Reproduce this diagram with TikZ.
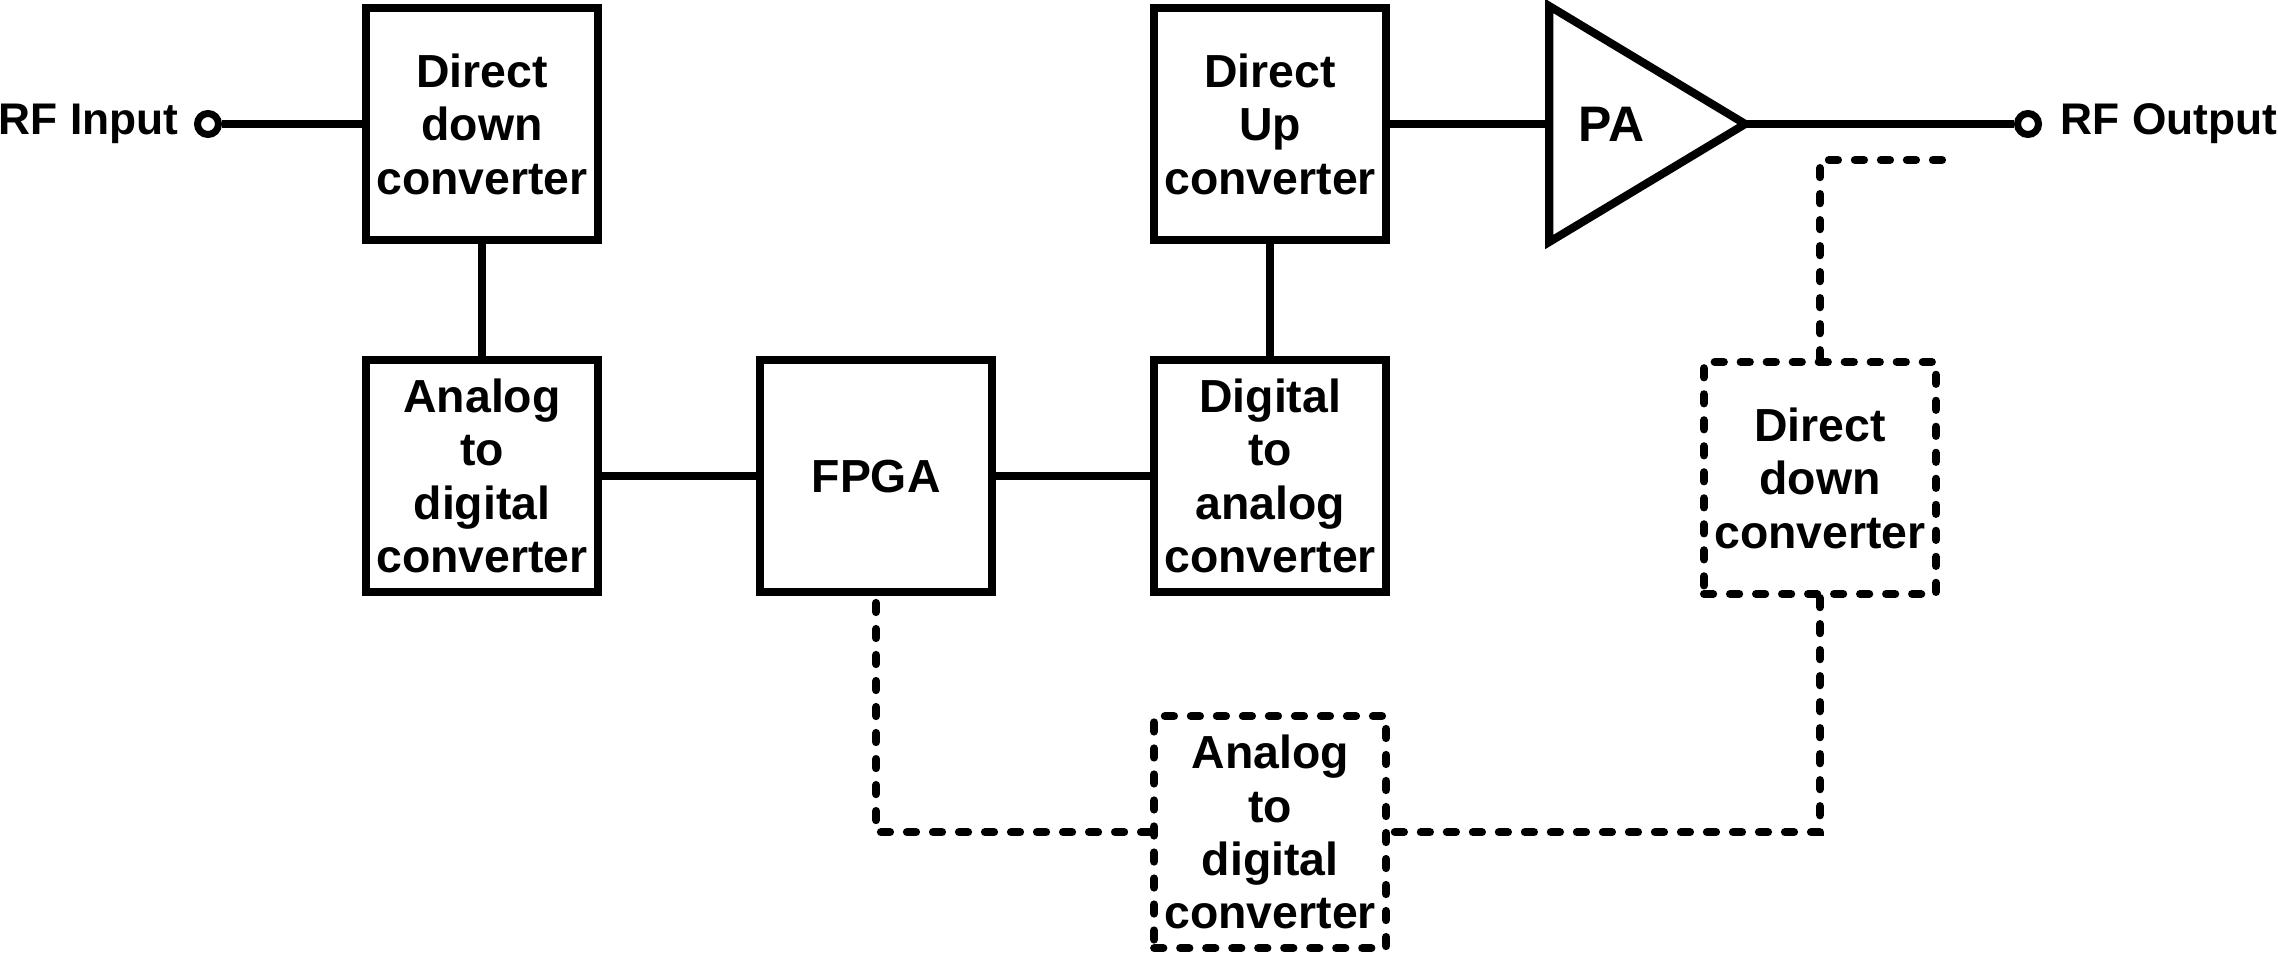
\documentclass[tikz,border=0pt]{standalone}
\usepackage{fontspec}
\setmainfont{Liberation Sans}
\usetikzlibrary{positioning}
\tikzset{
  blk/.style={draw, line width=2.3pt, minimum width=2.32cm, minimum height=2.32cm, align=center, inner sep=0pt, font=\fontsize{13.2}{15.2}\selectfont\bfseries},
  dblk/.style={blk, dash pattern=on 2.6pt off 4.8pt, line cap=round},
  wire/.style={line width=2.1pt},
  dwire/.style={line width=2.3pt, dash pattern=on 2.6pt off 4.8pt, line cap=round},
  term/.style={circle, draw, fill=white, line width=2pt, inner sep=0pt, minimum size=0.21cm},
  lbl/.style={inner sep=0pt, font=\fontsize{12.6}{15}\selectfont\bfseries}
}
\begin{document}
\begin{tikzpicture}[node distance=1.12cm and 1.54cm]
  \useasboundingbox (0,0) rectangle (22.78,-9.55);
  \node[blk] (ddcA) at (4.82,-1.24) {Direct\\down\\converter};
  \node[blk, below=of ddcA] (adcA) {Analog\\to\\digital\\converter};
  \node[blk, right=of adcA] (fpga) {FPGA};
  \node[blk, right=of fpga] (dac) {Digital\\to\\analog\\converter};
  \node[blk, above=of dac] (duc) {Direct\\Up\\converter};
  \node[dblk, below=1.16cm of dac] (adcB) {Analog\\to\\digital\\converter};
  \node[dblk] (ddcB) at (18.20,-4.78) {Direct\\down\\converter};
  % power amplifier
  \coordinate[right=1.59cm of duc.east] (paIn);
  \coordinate (paOut) at ([xshift=1.96cm]paIn);
  \draw[line width=2.3pt, line join=miter] ([yshift=1.18cm]paIn) -- (paOut) -- ([yshift=-1.18cm]paIn) -- cycle;
  \node[lbl, font=\fontsize{14.2}{16}\selectfont\bfseries] (pa) at ([xshift=0.62cm]paIn) {PA};
  % terminals
  \node[term] (inT) at (2.08,-1.24) {};
  \node[lbl, left=0.15cm of inT] (inLab) {RF Input};
  \node[term] (outT) at (20.28,-1.24) {};
  \node[lbl, right=0.18cm of outT] (outLab) {RF Output};
  \coordinate (tap) at (19.42,-1.60);

  \draw[wire] (inT) -- (ddcA);
  \draw[wire] (ddcA) -- (adcA);
  \draw[wire] (adcA) -- (fpga);
  \draw[wire] (fpga) -- (dac);
  \draw[wire] (duc) -- (dac);
  \draw[wire] (duc) -- (paIn);
  \draw[wire] (paOut) -- (outT);
  % feedback path
  \draw[dwire] (tap) -| (ddcB.north);
  \draw[dwire] (ddcB.south) |- (adcB.east);
  \draw[dwire] (adcB.west) -| (fpga.south);
\end{tikzpicture}
\end{document}
